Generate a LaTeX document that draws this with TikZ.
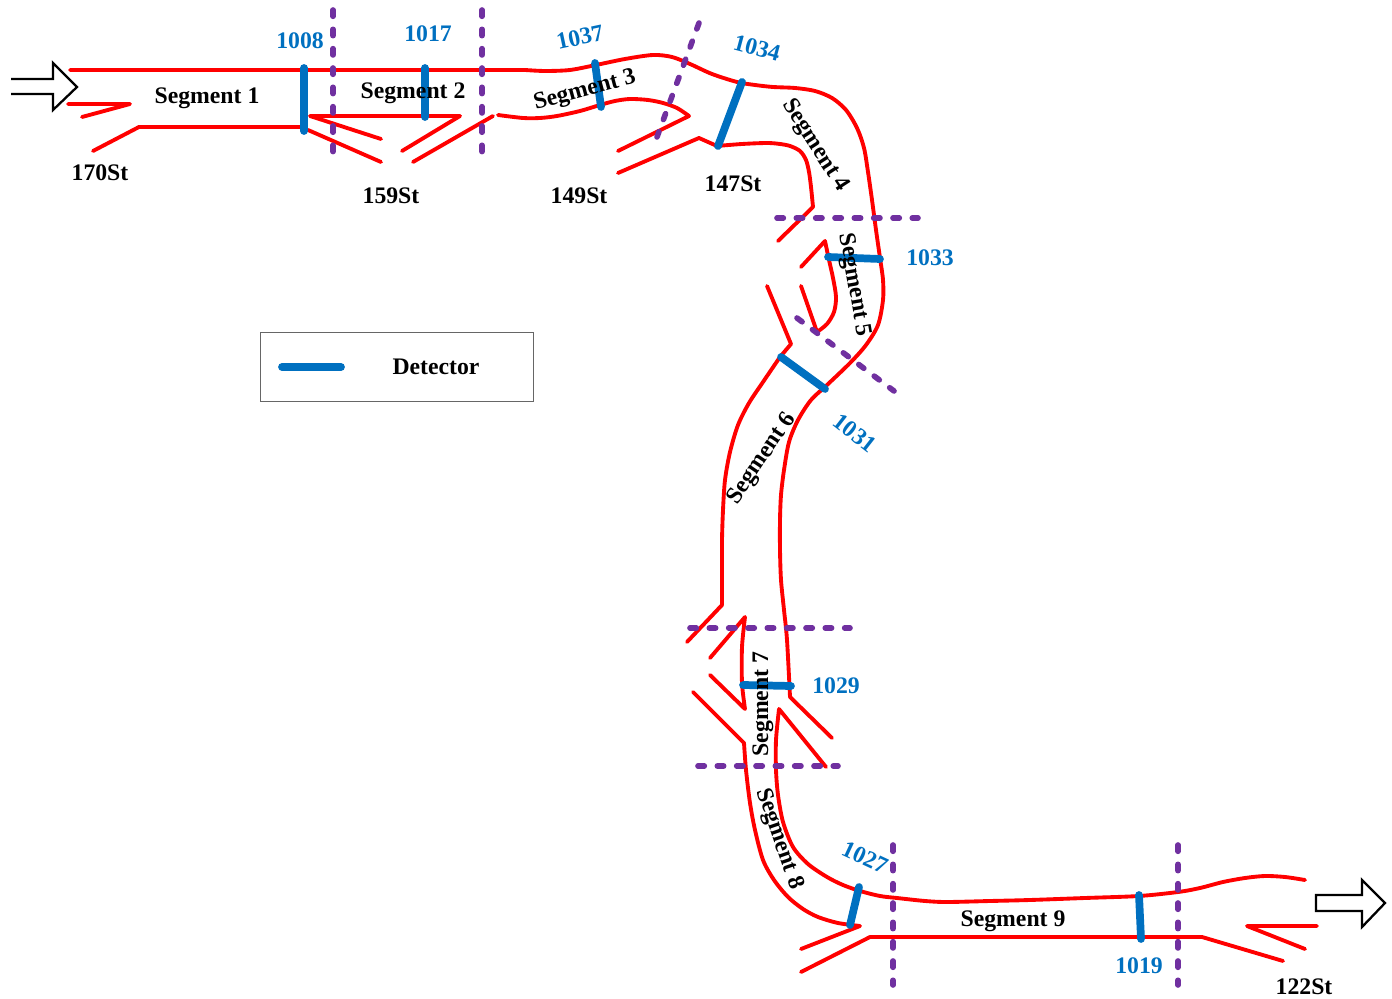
\documentclass[tikz,border=0pt]{standalone}
\usepackage{fontspec}
\setmainfont{Liberation Serif}
\usepackage{xcolor}
\definecolor{detblue}{HTML}{0070C0}
\definecolor{cutpurple}{HTML}{7030A0}
\tikzset{
  road/.style={draw=red,line width=2.2pt,line join=round,line cap=round},
  detector/.style={draw=detblue,line width=4.4pt,line cap=round},
  cutline/.style={draw=cutpurple,line width=3.2pt,line cap=round,dash pattern=on 3.6pt off 7.4pt},
  flowarrow/.style={draw=black,line width=1.3pt,line join=miter},
  seglabel/.style={font=\fontsize{13.5}{15}\selectfont\bfseries,text=black,inner sep=0pt},
  detlabel/.style={font=\fontsize{13.5}{15}\selectfont\bfseries,text=detblue,inner sep=0pt}
}
\begin{document}
\begin{tikzpicture}[x=0.02cm,y=-0.02cm]
  \useasboundingbox (0,0) rectangle (1392,999);
  % flow arrows
  \draw[flowarrow] (11,79) -- (53,79) -- (53,63) -- (77,87) -- (53,110) -- (53,94) -- (11,94);
  \draw[flowarrow] (1316,895) -- (1362,895) -- (1362,880) -- (1385,903) -- (1362,927) -- (1362,911) -- (1316,911) -- cycle;
  % top edge of the road
  \draw[road] (70,70) -- (525,70) -- plot[smooth] coordinates {(525,70) (545,71) (570,70) (596,65) (625,59) (653,55) (672,57) (690,64) (712,74) (737,82) (755,85) (773,87) (795,88) (815,91) (832,98) (846,110) (857,128) (864,148) (868,172) (872,200) (876,230) (880,258) (883,280) (883,300) (878,325) (866,345) (850,363) (827,385) (811,400) (798,420) (789,442) (784,470) (781,495) (780,520) (780,550) (781,580) (784,610) (787,640) (790,697)} -- (832,738);
  % ramps and lower edge
  \draw[road] (68,104) -- (130,104) -- (82,117);
  \draw[road] (93,151) -- (139,127) -- (302,127);
  \draw[road] (308,130) -- (381,162);
  \draw[road] (381,139) -- (310,116) -- (460,116) -- (402,151);
  \draw[road] (413,162) -- (493,116);
  \draw[road] (618,151) -- (689,116) -- plot[smooth] coordinates {(689,116) (677,108) (663,103) (648,100) (630,99) (615,101) (600,105) (580,111) (557,116) (540,118) (523,118) (498,115)};
  \draw[road] (618,173) -- (699,138) -- (717,146) -- plot[smooth] coordinates {(717,146) (742,144) (767,143) (780,144) (790,146) (800,151) (806,160) (809,172) (811,187) (813,207)} -- (778,241);
  \draw[road] (801,267) -- (825,241) -- plot[smooth] coordinates {(825,241) (829,260) (833,278) (836,297) (834,312) (827,324) (817,332)} -- (801,286);
  \draw[road] (767,286) -- (791,344) -- (780,357) -- plot[smooth] coordinates {(780,357) (763,382) (749,403) (738,425) (730,452) (725,480) (723,510) (722,540) (722,570) (722,605)} -- (687,642);
  \draw[road] (710,658) -- (745,617) -- plot[smooth] coordinates {(745,617) (742,647) (742,683) (745,709)} -- (710,675);
  \draw[road] (693,692) -- (744,743) -- plot[smooth] coordinates {(744,743) (746,770) (750,803) (755,830) (763,860) (774,880) (788,897) (803,909) (818,917) (838,923) (860,926)} -- (801,949);
  \draw[road] (826,767) -- (779,709) -- plot[smooth] coordinates {(779,709) (776,740) (776,770) (778,795) (783,822) (793,847) (808,864) (827,877) (843,885) (860,891) (880,896) (897,898) (925,901) (947,902) (990,901) (1030,900) (1085,898) (1139,896) (1178,892) (1200,888) (1223,882) (1245,878) (1265,876) (1285,877) (1305,880)};
  \draw[road] (801,972) -- (870,937) -- (1202,937) -- (1283,961);
  \draw[road] (1317,926) -- (1247,926) -- (1305,949);
  % segment boundaries
  \foreach \a/\b/\c/\d in {333/10/333/153,482/10/482/153,699/23/657/137,777/218/918/218,797/318/894/391,690/628/850/628,698/766/838/766,893/845/893/985,1178/845/1178/985}
    \draw[cutline] (\a,\b) -- (\c,\d);
  % detectors
  \foreach \a/\b/\c/\d in {304/68/304/131,425/68/425/117,595/63/601/107,742/82/718/146,828/257/880/259,781/357/825/389,743/685/791/686,859/887/850/925,1139/895/1141/939}
    \draw[detector] (\a,\b) -- (\c,\d);
  % legend
  \node[draw=black!60,line width=0.5pt,minimum width=5.46cm,minimum height=1.38cm,inner sep=0pt] (legend) at (396.5,366.5) {};
  \coordinate (legA) at (282,367);
  \coordinate (legB) at (341,367);
  \draw[detector] (legA) -- (legB);
  \node[seglabel] (legtext) at (436,367) {Detector};
  % segment names
  \foreach \n/\x/\y/\r in {1/207/98/0,2/413/93/0,3/585/91/15,4/815/146/-57,5/854/285/-80,6/762/459/56,7/763/704/90,8/779/839/-71,9/1013/921/0}
    \node[seglabel,rotate=\r] (seg\n) at (\x,\y) {Segment \n};
  % ramp names
  \foreach \n/\x/\y in {170/100/173,159/391/196,149/579/196,147/733/184,122/1304/987}
    \node[seglabel] (st\n) at (\x,\y) {\n St};
  % detector numbers
  \foreach \n/\x/\y/\r in {1008/300/41/0,1017/428/34/0,1037/580/37/12,1034/757/48/-15,1033/930/258/0,1031/855/433/-38,1029/836/686/0,1027/865/857/-25,1019/1139/966/0}
    \node[detlabel,rotate=\r] (d\n) at (\x,\y) {\n};
\end{tikzpicture}
\end{document}
